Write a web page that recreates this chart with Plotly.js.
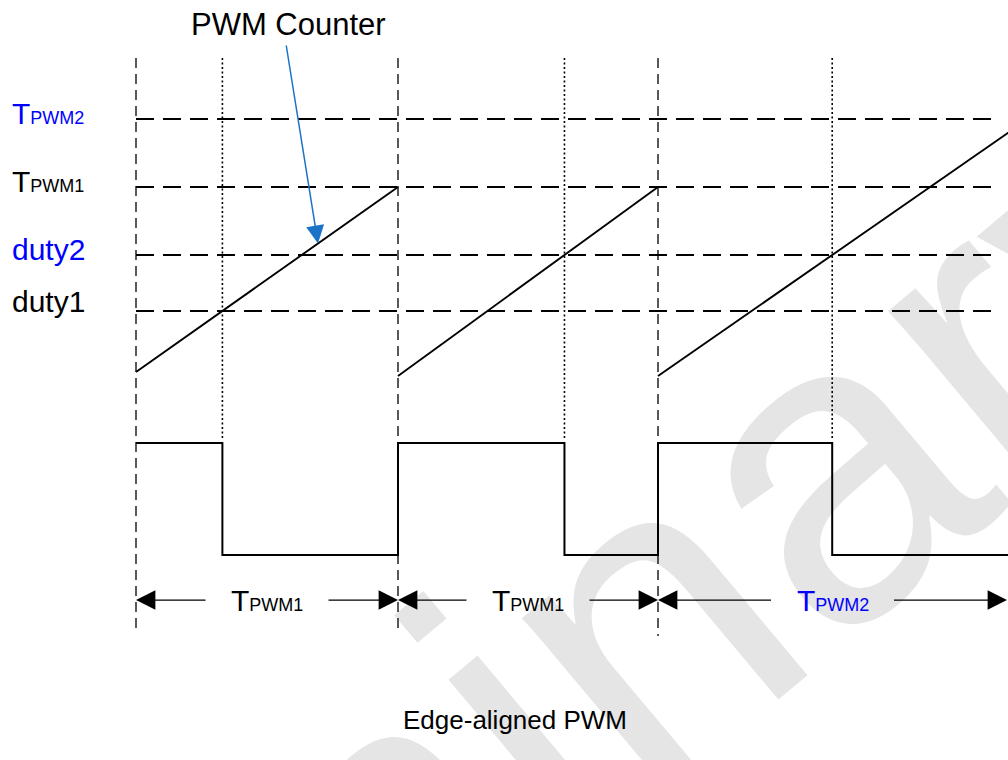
<!DOCTYPE html>
<html><head><meta charset="utf-8">
<script src="https://cdn.plot.ly/plotly-3.0.1.min.js"></script>
<style>html,body{margin:0;padding:0;background:#fff}#chart{width:1008px;height:760px}</style>
</head><body><div id="chart"></div>
<script>
// ---- Data ----
// Compare / period levels of the PWM counter (counter units)
const levelNames  = ['TPWM2', 'TPWM1', 'duty2', 'duty1'];
const levelValues = [255, 187, 119, 63];
const levelColors = ['#0000FF', '#000000', '#0000FF', '#000000'];

// PWM periods (time units)
const periodStart     = [136, 398, 658];
const periodLength    = [262, 260, 370];
const periodTopName   = ['TPWM1', 'TPWM1', 'TPWM2'];
const periodDutyName  = ['duty1', 'duty2', 'duty2'];
const rampStartValue  = [2, -2, -2];

// PWM output levels (drawn below the counter)
const outHigh = -69;
const outLow  = -181;

// ---- Layout constants ----
const X_RANGE = [0, 1008];
const Y_RANGE = [-386, 374];
const gridRight = 1000, diagramRight = 1007;
const vTop = 316, vBottom = -256, dotBottom = -64, arrowRow = -226;
const FONT = 'Liberation Sans, Arial, sans-serif';

const lv = n => levelValues[levelNames.indexOf(n)];
const lc = n => levelColors[levelNames.indexOf(n)];
const fmt = n => n.charAt(0) === 'T'
  ? 'T<span style="font-size:18px">' + n.slice(1) + '</span>' : n;

const traces = [];
// horizontal level lines
levelValues.forEach(v => traces.push({
  x: [periodStart[0], gridRight], y: [v, v], mode: 'lines', hoverinfo: 'skip',
  line: {color: '#000', width: 2, dash: '18px,9px'}
}));
// vertical period-start lines
periodStart.forEach((s, i) => traces.push({
  x: [s, s], y: [vTop, vBottom - (i === 2 ? 6 : 0)], mode: 'lines', hoverinfo: 'skip',
  line: {color: '#000', width: 1.3, dash: '10px,6px'}
}));
// compare match times and dotted lines
const cross = periodStart.map((s, i) => {
  const top = lv(periodTopName[i]), d = lv(periodDutyName[i]), r0 = rampStartValue[i];
  return s + periodLength[i] * (d - r0) / (top - r0);
});
cross.forEach(c => traces.push({
  x: [c, c], y: [vTop, dotBottom], mode: 'lines', hoverinfo: 'skip',
  line: {color: '#000', width: 1.6, dash: '2px,2.5px'}
}));
// counter ramps
const rx = [], ry = [];
periodStart.forEach((s, i) => {
  rx.push(s, s + periodLength[i], null);
  ry.push(rampStartValue[i], lv(periodTopName[i]), null);
});
traces.push({x: rx, y: ry, mode: 'lines', hoverinfo: 'skip', line: {color: '#000', width: 1.9}});
// PWM output
const px = [], py = [];
periodStart.forEach((s, i) => {
  const e = s + periodLength[i];
  px.push(s, cross[i], cross[i], e);
  py.push(outHigh, outHigh, outLow, outLow);
});
traces.push({x: px, y: py, mode: 'lines', hoverinfo: 'skip', line: {color: '#000', width: 2}});

// ---- Annotations ----
const ann = [];
levelNames.forEach((n, i) => ann.push({
  x: 10, y: levelValues[i] + (n === 'duty1' ? 10 : 6), xref: 'x', yref: 'y',
  xanchor: 'left', yanchor: 'middle', showarrow: false, text: fmt(n),
  font: {family: FONT, size: 30, color: levelColors[i]}
}));
periodStart.forEach((s, i) => {
  const e = Math.min(s + periodLength[i], diagramRight), cx = (s + e) / 2;
  const name = periodTopName[i];
  ann.push({x: cx, y: arrowRow, xref: 'x', yref: 'y', showarrow: false, text: fmt(name),
    xanchor: 'center', yanchor: 'middle', font: {family: FONT, size: 30, color: lc(name)}});
  [[s, cx - 60], [e, cx + 60]].forEach(([tip, tail]) => ann.push({
    x: tip, y: arrowRow, ax: tail, ay: arrowRow, xref: 'x', yref: 'y', axref: 'x', ayref: 'y',
    text: '', showarrow: true, arrowhead: 2, arrowsize: 3.1, arrowwidth: 1.25, arrowcolor: '#000'
  }));
});
// PWM Counter label and pointer
const ptrT = 318;
const ptrV = rampStartValue[0] + (ptrT - periodStart[0]) / periodLength[0] * (lv(periodTopName[0]) - rampStartValue[0]);
ann.push({x: 288, y: 350, xref: 'x', yref: 'y', showarrow: false, text: 'PWM Counter',
  font: {family: FONT, size: 31, color: '#000'}});
ann.push({x: ptrT, y: ptrV, ax: 286, ay: 330, xref: 'x', yref: 'y', axref: 'x', ayref: 'y',
  text: '', showarrow: true, arrowhead: 2, arrowsize: 2.4, arrowwidth: 1.5, arrowcolor: '#1a73c7'});
ann.push({x: 515, y: -346, xref: 'x', yref: 'y', showarrow: false, text: 'Edge-aligned PWM',
  font: {family: FONT, size: 26, color: '#000'}});

const layout = {
  width: 1008, height: 760, margin: {l: 0, r: 0, t: 0, b: 0},
  paper_bgcolor: '#fff', plot_bgcolor: '#fff', showlegend: false,
  xaxis: {range: X_RANGE, visible: false, fixedrange: true},
  yaxis: {range: Y_RANGE, visible: false, fixedrange: true},
  annotations: ann,
  shapes: [{
    type: 'rect', xref: 'paper', yref: 'paper', x0: 0.332, x1: 0.346, y0: -0.084, y1: -0.074,
    line: {width: 0}, fillcolor: 'rgba(0,0,0,0)', layer: 'below',
    label: {text: 'Preliminary', textangle: -40, textposition: 'middle center',
      font: {family: FONT, size: 430, color: '#e5e5e5'}}
  }]
};
Plotly.newPlot('chart', traces, layout, {staticPlot: true, displayModeBar: false});
</script></body></html>
